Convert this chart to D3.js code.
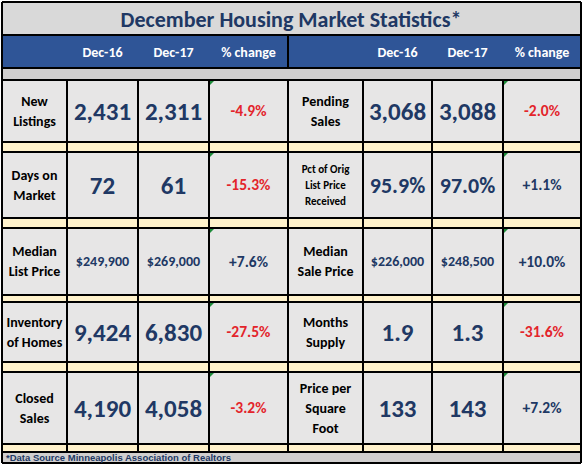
<!DOCTYPE html>
<html><head><meta charset="utf-8">
<script src="https://cdn.jsdelivr.net/npm/d3@7"></script>
<style>body{margin:0;background:#fff}</style>
</head><body>
<div id="chart"></div>
<script>
// Daten
const title = "December Housing Market Statistics*";
const headers = ["Dec-16", "Dec-17", "% change"];
const leftLabels = [["New", "Listings"], ["Days on", "Market"], ["Median", "List Price"], ["Inventory", "of Homes"], ["Closed", "Sales"]];
const leftDec16 = ["2,431", "72", "$249,900", "9,424", "4,190"];
const leftDec17 = ["2,311", "61", "$269,000", "6,830", "4,058"];
const leftChange = ["-4.9%", "-15.3%", "+7.6%", "-27.5%", "-3.2%"];
const rightLabels = [["Pending", "Sales"], ["Pct of Orig", "List  Price", "Received"], ["Median", "Sale Price"], ["Months", "Supply"], ["Price per", "Square", "Foot"]];
const rightDec16 = ["3,068", "95.9%", "$226,000", "1.9", "133"];
const rightDec17 = ["3,088", "97.0%", "$248,500", "1.3", "143"];
const rightChange = ["-2.0%", "+1.1%", "+10.0%", "-31.6%", "+7.2%"];
const footnote = "*Data Source Minneapolis Association of Realtors";

const W = 584, H = 466;
const cols = [2, 67, 138, 209, 288, 363, 432, 503, 581];
const rows = [[80, 142], [152, 218], [228, 295], [302, 362], [372, 444]];
const navy = "#203864", red = "#e3242b";
const font = "Calibri, 'Open Sans', 'DejaVu Sans', sans-serif";

const svg = d3.select("#chart").append("svg").attr("width", W).attr("height", H)
  .style("font-family", font);

// Hintergründe
svg.append("rect").attr("x", 2).attr("y", 2).attr("width", 579).attr("height", 33).attr("fill", "#d9d9d9");
svg.append("text").attr("x", 291).attr("y", 27).attr("text-anchor", "middle")
  .attr("font-size", 22).attr("font-weight", "bold").attr("fill", navy).text(title);
svg.append("rect").attr("x", 2).attr("y", 35).attr("width", 579).attr("height", 33).attr("fill", "#2f5597");
svg.append("rect").attr("x", 2).attr("y", 68).attr("width", 579).attr("height", 12).attr("fill", "#d0cece");
svg.append("rect").attr("x", 2).attr("y", 80).attr("width", 579).attr("height", 372).attr("fill", "#fff2cc");
svg.append("rect").attr("x", 2).attr("y", 452).attr("width", 579).attr("height", 11).attr("fill", "#d0cece");

// Kopfzeile
[0, 4].forEach(off => headers.forEach((h, i) => {
  svg.append("text").attr("x", (cols[off + i + 1] + cols[off + i + 2]) / 2).attr("y", 57)
    .attr("text-anchor", "middle").attr("font-size", 14).attr("font-weight", "bold")
    .attr("fill", "#fff").text(h);
}));

// Zellen
function side(off, labels, a, b, ch) {
  rows.forEach((r, i) => {
    const [y0, y1] = r, cy = (y0 + y1) / 2;
    for (let c = 0; c < 4; c++) {
      svg.append("rect").attr("x", cols[off + c]).attr("y", y0)
        .attr("width", cols[off + c + 1] - cols[off + c]).attr("height", y1 - y0).attr("fill", "#e7e6e6");
    }
    const lab = labels[i], small = lab.length > 2 && off === 4 && i === 1;
    const fs = small ? 11 : 14, lh = small ? 16 : 20;
    lab.forEach((l, k) => {
      svg.append("text").attr("x", (cols[off] + cols[off + 1]) / 2)
        .attr("y", cy + (k - (lab.length - 1) / 2) * lh + fs * 0.35)
        .attr("text-anchor", "middle").attr("font-size", fs).attr("font-weight", "bold")
        .attr("fill", "#000").text(l);
    });
    [a[i], b[i]].forEach((v, k) => {
      const big = v.startsWith("$") ? 14 : v.endsWith("%") ? 22 : 25;
      svg.append("text").attr("x", (cols[off + k + 1] + cols[off + k + 2]) / 2).attr("y", cy + big * 0.35)
        .attr("text-anchor", "middle").attr("font-size", big).attr("font-weight", "bold")
        .attr("fill", navy).text(v);
    });
    const x2 = cols[off + 3];
    svg.append("text").attr("x", (x2 + cols[off + 4]) / 2).attr("y", cy + 5)
      .attr("text-anchor", "middle").attr("font-size", 15.5).attr("font-weight", "bold")
      .attr("fill", ch[i].startsWith("-") ? red : navy).text(ch[i]);
    svg.append("path").attr("d", `M${x2},${y0}h6l-6,6z`).attr("fill", "#1e8c3a");
  });
}
side(0, leftLabels, leftDec16, leftDec17, leftChange);
side(4, rightLabels, rightDec16, rightDec17, rightChange);

// Linien
const line = (x1, y1, x2, y2, w) => svg.append("line").attr("x1", x1).attr("y1", y1)
  .attr("x2", x2).attr("y2", y2).attr("stroke", "#000").attr("stroke-width", w);
[2, 35, 68, 80, 452, 463].forEach(y => line(2, y, 581, y, 2));
rows.forEach(r => { line(2, r[0], 581, r[0], 2); line(2, r[1], 581, r[1], 2); });
line(2, 2, 2, 463, 2); line(581, 2, 581, 463, 2);
line(288, 35, 288, 68, 2);
cols.slice(1, -1).forEach(x => line(x, 80, x, 452, 2));

svg.append("text").attr("x", 6).attr("y", 460.5).attr("font-size", 9.5).attr("font-weight", "bold")
  .attr("font-family", "Arial, 'Liberation Sans', sans-serif").attr("fill", navy).text(footnote);
</script>
</body></html>
